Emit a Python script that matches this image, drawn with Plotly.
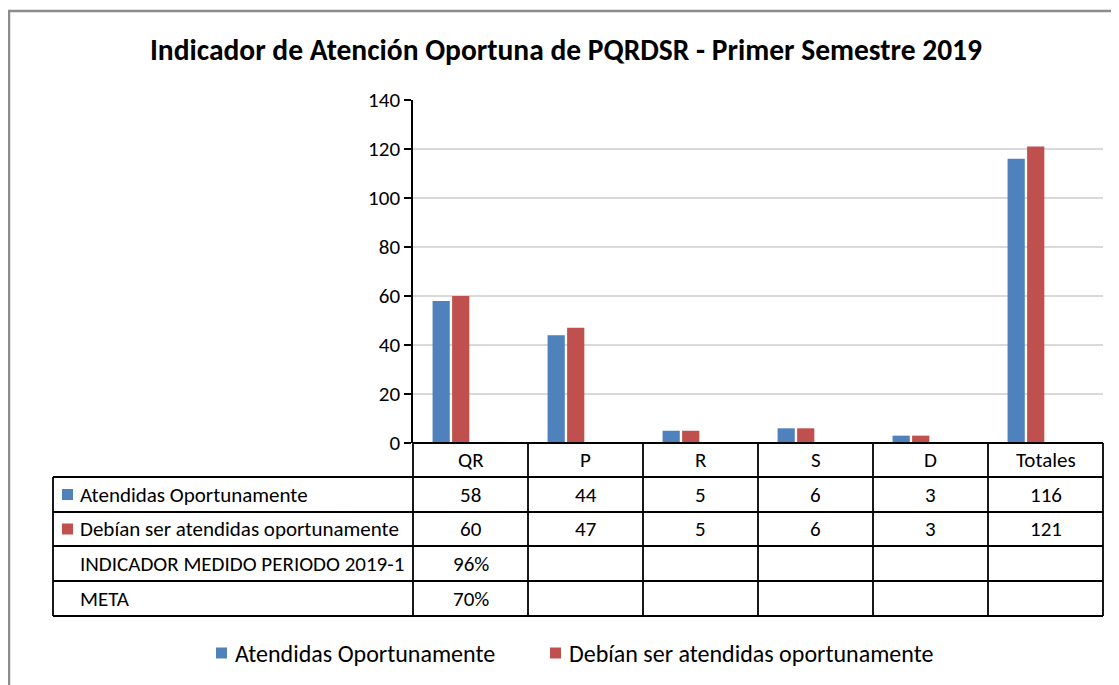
import plotly.graph_objects as go

# data
categories = ["QR", "P", "R", "S", "D", "Totales"]
atendidas = [58, 44, 5, 6, 3, 116]
debian = [60, 47, 5, 6, 3, 121]
indicador = [0.96, None, None, None, None, None]
meta = [0.70, None, None, None, None, None]

series_names = [
    "Atendidas Oportunamente",
    "Debían ser atendidas oportunamente",
    "INDICADOR MEDIDO PERIODO 2019-1",
    "META",
]
colors = ["#4F81BD", "#C0504D"]

# the page has an 8px body margin, so the figure is shifted by that much
OFF = 8
W, H = 1119 - OFF, 685 - OFF
FONT = "Carlito, Calibri, Lato, sans-serif"

# layout in screen pixels (as measured on the reference)
px_left, px_right = 413, 1103
px_top, px_bottom = 100, 443
row_edges = [443, 477, 512, 546, 581, 616]
table_left = 53


def fx(p):
    return (p - OFF) / W


def fy(p):
    return 1 - (p - OFF) / H


def fmt(v, pct=False):
    if v is None:
        return ""
    return f"{v:.0%}" if pct else str(v)


fig = go.Figure()
fig.add_trace(go.Bar(name=series_names[0], x=categories, y=atendidas,
                     marker_color=colors[0], marker_line_width=0))
fig.add_trace(go.Bar(name=series_names[1], x=categories, y=debian,
                     marker_color=colors[1], marker_line_width=0))
# the percentage series take slots in each group but are invisible at this scale
fig.add_trace(go.Bar(name=series_names[2], x=categories, y=indicador,
                     marker_color="rgba(0,0,0,0)", hoverinfo="skip"))
fig.add_trace(go.Bar(name=series_names[3], x=categories, y=meta,
                     marker_color="rgba(0,0,0,0)", hoverinfo="skip"))

fig.update_layout(
    width=W, height=H,
    margin=dict(l=0, r=0, t=0, b=0, autoexpand=False),
    paper_bgcolor="white", plot_bgcolor="white",
    barmode="group", bargap=0.32, bargroupgap=0.12,
    showlegend=False,
    font=dict(family=FONT, size=21, color="black"),
    title=dict(text="<b>Indicador de Atención Oportuna de PQRDSR - Primer Semestre 2019</b>",
               x=fx(566), xanchor="center", y=fy(50), yanchor="middle", yref="container",
               font=dict(family=FONT, size=29.5, color="black")),
    xaxis=dict(domain=[fx(px_left), fx(px_right)], showticklabels=False, showgrid=False,
               showline=False, zeroline=False, fixedrange=True),
    yaxis=dict(domain=[fy(px_bottom), fy(px_top)], range=[0, 140], dtick=20,
               showgrid=True, gridcolor="#D9D9D9", gridwidth=1.5,
               showline=True, linecolor="black", linewidth=1.5,
               ticks="outside", ticklen=7, tickcolor="black", tickwidth=1.5,
               zeroline=False, tickfont=dict(size=21), fixedrange=True),
)

shapes = []
line = dict(color="black", width=1.8)
# outer chart border
shapes.append(dict(type="rect", xref="paper", yref="paper", x0=fx(9), x1=fx(1140),
                   y0=fy(700), y1=fy(11), line=dict(color="#8C8C8C", width=2.5)))

ncat = len(categories)
colw = (px_right - px_left) / ncat
col_edges = [px_left + i * colw for i in range(ncat + 1)]

# horizontal lines of the data table
shapes.append(dict(type="line", xref="paper", yref="paper", x0=fx(px_left), x1=fx(px_right),
                   y0=fy(row_edges[0]), y1=fy(row_edges[0]), line=line))
for r in row_edges[1:]:
    shapes.append(dict(type="line", xref="paper", yref="paper", x0=fx(table_left), x1=fx(px_right),
                       y0=fy(r), y1=fy(r), line=line))
# vertical lines
for c in col_edges:
    shapes.append(dict(type="line", xref="paper", yref="paper", x0=fx(c), x1=fx(c),
                       y0=fy(row_edges[0]), y1=fy(row_edges[-1]), line=line))
shapes.append(dict(type="line", xref="paper", yref="paper", x0=fx(table_left), x1=fx(table_left),
                   y0=fy(row_edges[1]), y1=fy(row_edges[-1]), line=line))

# legend keys inside the table
for i, col in enumerate(colors):
    yc = (row_edges[i + 1] + row_edges[i + 2]) / 2
    shapes.append(dict(type="rect", xref="paper", yref="paper", x0=fx(62), x1=fx(73),
                       y0=fy(yc + 5.5), y1=fy(yc - 5.5), fillcolor=col, line=dict(width=0)))

# bottom legend
legend_y = 653
legend_x = [216, 550]
for x0, col in zip(legend_x, colors):
    shapes.append(dict(type="rect", xref="paper", yref="paper", x0=fx(x0), x1=fx(x0 + 11),
                       y0=fy(legend_y + 5.5), y1=fy(legend_y - 5.5), fillcolor=col,
                       line=dict(width=0)))
fig.update_layout(shapes=shapes)

annotations = []
for x0, name in zip(legend_x, series_names[:2]):
    annotations.append(dict(x=fx(x0 + 17), xref="paper", y=fy(legend_y), yref="paper",
                            text=name, showarrow=False, xanchor="left", yanchor="middle",
                            font=dict(size=24)))

table_rows = [
    [fmt(v) for v in atendidas],
    [fmt(v) for v in debian],
    [fmt(v, True) for v in indicador],
    [fmt(v, True) for v in meta],
]
hy = (row_edges[0] + row_edges[1]) / 2
for cat in categories:
    annotations.append(dict(x=cat, xref="x", y=fy(hy), yref="paper", text=cat,
                            showarrow=False, xanchor="center", yanchor="middle"))
for i, (name, vals) in enumerate(zip(series_names, table_rows)):
    yc = (row_edges[i + 1] + row_edges[i + 2]) / 2
    annotations.append(dict(x=fx(78), xref="paper", y=fy(yc), yref="paper", text=name,
                            showarrow=False, xanchor="left", yanchor="middle"))
    for cat, v in zip(categories, vals):
        annotations.append(dict(x=cat, xref="x", y=fy(yc), yref="paper", text=v,
                                showarrow=False, xanchor="center", yanchor="middle"))
fig.update_layout(annotations=annotations)

fig.write_html("out.html")
